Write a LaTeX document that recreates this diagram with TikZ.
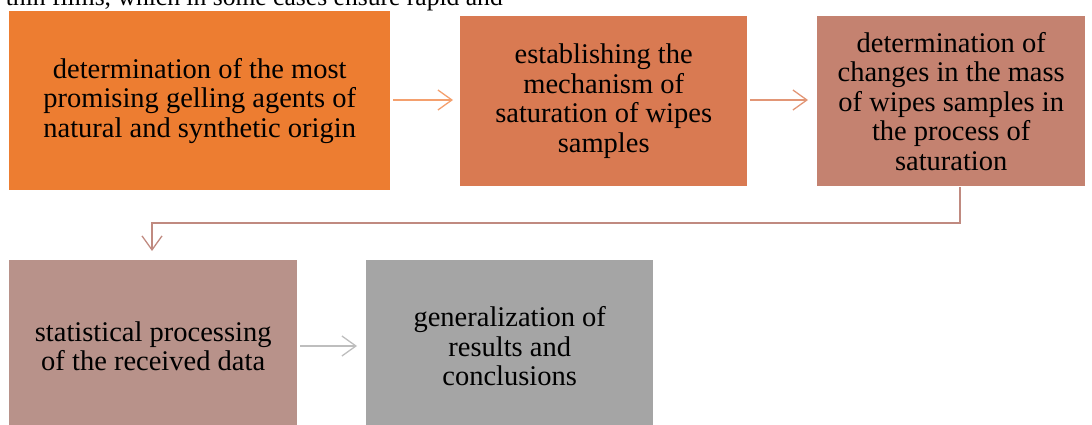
\documentclass[tikz,border=0pt]{standalone}
\usepackage{fontspec}
\setmainfont{Liberation Serif}
\usetikzlibrary{arrows.meta}
\definecolor{cA}{RGB}{237,125,49}
\definecolor{cB}{RGB}{217,122,82}
\definecolor{cC}{RGB}{196,130,112}
\definecolor{cD}{RGB}{184,146,138}
\definecolor{cE}{RGB}{165,165,165}
\tikzset{
  boxx/.style={draw=none, anchor=north west, inner sep=0pt},
  lbl/.style={align=center, inner sep=0pt, font=\fontsize{28.5}{29.5}\selectfont, text=black},
  conn/.style={line width=1.3pt, -{Straight Barb[length=14pt,width=20pt,line width=1.3pt]}},
}
\begin{document}
\begin{tikzpicture}[x=1pt,y=-1pt]
\useasboundingbox (0,0) rectangle (1092,425);
\begin{scope}
\clip (0,0) rectangle (1092,425);
\node[anchor=base east, inner sep=0pt, font=\fontsize{25.6}{29}\selectfont] (top) at (503,6) {thin films, which in some cases ensure rapid and};
\end{scope}
\node[boxx, fill=cA, minimum width=381pt, minimum height=179pt] (b1) at (9,11) {};
\node[lbl] at (b1.center) {determination of the most\\promising gelling agents of\\natural and synthetic origin};
\node[boxx, fill=cB, minimum width=287pt, minimum height=170pt] (b2) at (460,16) {};
\node[lbl] at (b2.center) {establishing the\\mechanism of\\saturation of wipes\\samples};
\node[boxx, fill=cC, minimum width=268pt, minimum height=170pt] (b3) at (817,16) {};
\node[lbl] at (b3.center) {determination of\\changes in the mass\\of wipes samples in\\the process of\\saturation};
\node[boxx, fill=cD, minimum width=288pt, minimum height=166pt] (b4) at (9,260) {};
\node[lbl] at ([yshift=-3pt]b4.center) {statistical processing\\of the received data};
\node[boxx, fill=cE, minimum width=287pt, minimum height=166pt] (b5) at (366,260) {};
\node[lbl] at ([yshift=-3pt]b5.center) {generalization of\\results and\\conclusions};
\coordinate (a1s) at (393,100);
\coordinate (a1e) at (453,100);
\draw[conn, draw={rgb,255:red,244;green,160;blue,110}] (a1s) -- (a1e);
\coordinate (a2s) at (750,100);
\coordinate (a2e) at (808,100);
\draw[conn, draw={rgb,255:red,226;green,150;blue,118}] (a2s) -- (a2e);
\coordinate (c3) at (960,187);
\coordinate (c4) at (152,251);
\draw[conn, draw={rgb,255:red,192;green,138;blue,128}] (c3) -- (960,223) -- (152,223) -- (c4);
\coordinate (a5s) at (300,346);
\coordinate (a5e) at (357,346);
\draw[conn, draw={rgb,255:red,190;green,190;blue,190}] (a5s) -- (a5e);
\end{tikzpicture}
\end{document}
